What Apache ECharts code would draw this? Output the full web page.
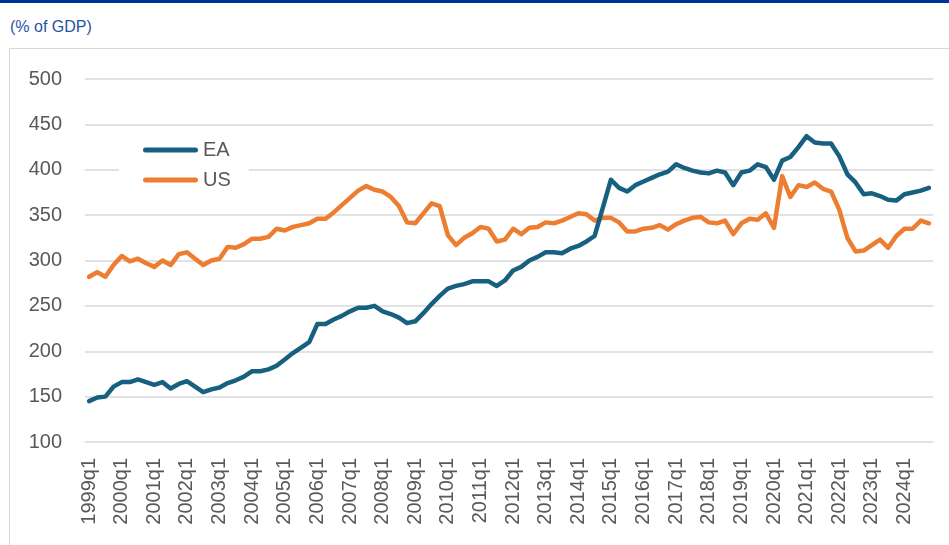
<!DOCTYPE html>
<html>
<head>
<meta charset="utf-8">
<script src="https://cdn.jsdelivr.net/npm/echarts@6/dist/echarts.min.js"></script>
<style>
body { margin:0; background:#fff; font-family:"Liberation Sans", Arial, sans-serif; }
#topbar { position:absolute; left:0; top:0; width:949px; height:3px; background:#00339a; }
#unit { position:absolute; left:10px; top:18px; font-size:16px; color:#2653a3; }
#frame { position:absolute; left:9px; top:48px; width:1000px; height:600px; border:1px solid #d9d9d9; }
#debt_chart { position:absolute; left:0; top:0; width:949px; height:545px; }
</style>
</head>
<body>
<div id="topbar"></div>
<div id="unit">(% of GDP)</div>
<div id="frame"></div>
<div id="debt_chart"></div>
<script>
// quarters 1999q1 .. 2024q4
var years = [1999,2000,2001,2002,2003,2004,2005,2006,2007,2008,2009,2010,2011,2012,2013,2014,2015,2016,2017,2018,2019,2020,2021,2022,2023,2024];
var quarters = ['q1','q2','q3','q4'];
var categories = [];
years.forEach(function (y) {
    quarters.forEach(function (q) { categories.push(y + q); });
});

var ea_data = [145,149,150,161,166,166,169,166,163,166,159,164,167,161,155,158,
    160,165,168,172,178,178,180,184,191,198,204,210,230,230,235,239,
    244,248,248,250,244,241,237,231,233,242,252,261,269,272,274,277,
    277,277,272,278,289,293,300,304,309,309,308,313,316,321,327,358,
    389,380,376,383,387,391,395,398,406,402,399,397,396,399,397,383,
    397,399,406,403,389,410,414,425,437,430,429,429,415,395,386,373,
    374,371,367,366,373,375,377,380];

var us_data = [282,287,282,295,305,299,302,297,293,300,295,307,309,302,295,300,
    302,315,314,318,324,324,326,335,333,337,339,341,346,346,353,361,
    369,377,382,378,376,370,360,342,341,352,363,360,328,317,325,330,
    337,335,321,323,335,329,336,337,342,341,344,348,352,351,344,347,
    347,342,332,332,335,336,339,334,340,344,347,348,342,341,344,329,
    341,346,345,352,336,393,370,383,381,386,379,376,356,325,310,311,
    317,323,314,327,335,335,344,341];

var y_min = 100, y_max = 500, y_step = 50;

var debt_chart = echarts.init(document.getElementById('debt_chart'));

var capsule = 'path://M2.5,0 L52.5,0 A2.5,2.5 0 0 1 52.5,5 L2.5,5 A2.5,2.5 0 0 1 2.5,0 Z';

var debt_option = {
    animation: false,
    legend: {
        orient: 'vertical',
        left: 119,
        top: 132,
        padding: [8, 18, 8, 24],
        backgroundColor: '#fff',
        itemWidth: 55,
        itemHeight: 5,
        itemGap: 10,
        textStyle: {
            fontFamily: 'Liberation Sans',
            fontSize: 20,
            lineHeight: 20,
            color: '#595959'
        },
        data: [
            {name: 'EA', icon: capsule},
            {name: 'US', icon: capsule}
        ]
    },
    grid: {
        left: 85,
        right: 16,
        top: 79,
        bottom: 103
    },
    xAxis: {
        type: 'category',
        boundaryGap: true,
        data: categories,
        axisLine: {show: false},
        axisTick: {show: false},
        axisLabel: {
            interval: 3,
            rotate: 90,
            margin: 16,
            fontFamily: 'Liberation Sans',
            fontSize: 20,
            color: '#595959'
        }
    },
    yAxis: {
        type: 'value',
        min: y_min,
        max: y_max,
        interval: y_step,
        axisLine: {show: false},
        axisTick: {show: false},
        axisLabel: {
            margin: 23,
            fontFamily: 'Liberation Sans',
            fontSize: 20,
            color: '#595959'
        },
        splitLine: {
            lineStyle: {color: '#d9d9d9', width: 1.5}
        }
    },
    series: [
        {
            name: 'EA',
            type: 'line',
            data: ea_data,
            symbol: 'none',
            color: '#17607f',
            lineStyle: {width: 4.5, color: '#17607f', join: 'round', cap: 'round'},
            z: 3
        },
        {
            name: 'US',
            type: 'line',
            data: us_data,
            symbol: 'none',
            color: '#ed7d31',
            lineStyle: {width: 4.5, color: '#ed7d31', join: 'round', cap: 'round'},
            z: 2
        }
    ]
};

debt_chart.setOption(debt_option);
</script>
</body>
</html>
